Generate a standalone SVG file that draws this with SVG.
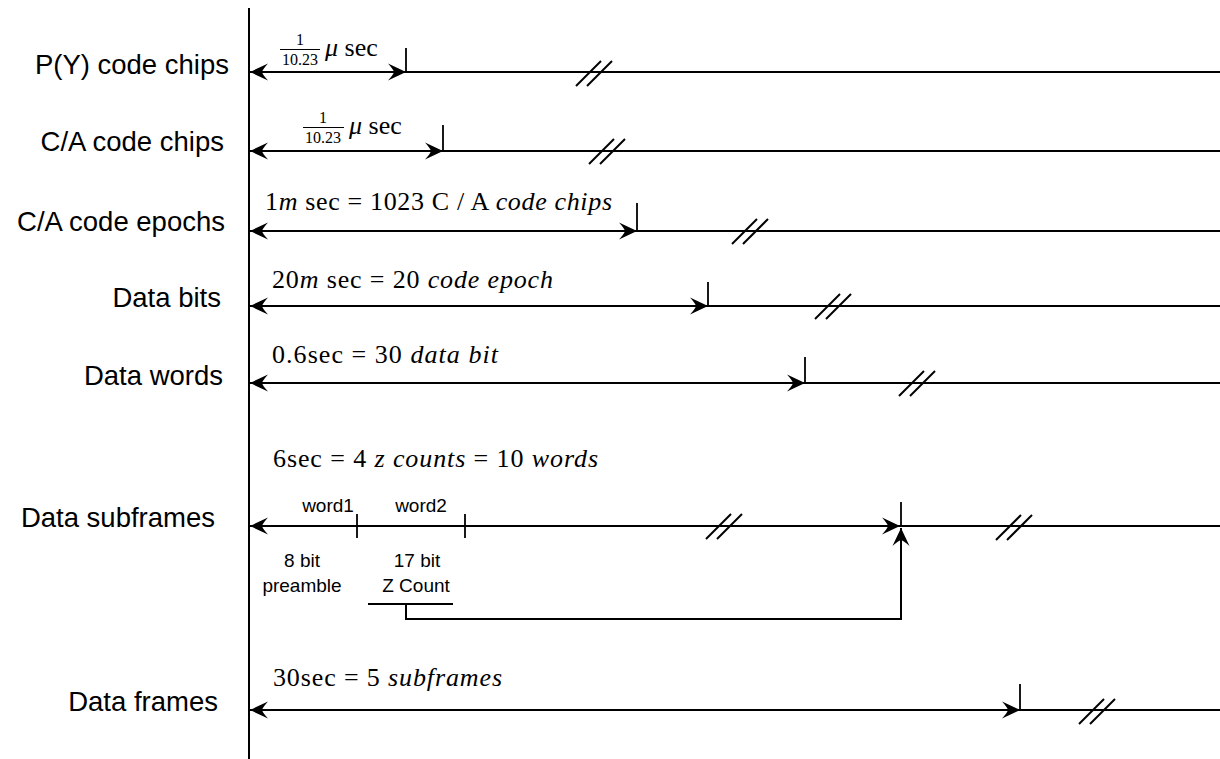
<svg xmlns="http://www.w3.org/2000/svg" xmlns:xlink="http://www.w3.org/1999/xlink" width="1220" height="759" viewBox="0 0 1220 759">
<style>
.ln{stroke:#000;stroke-width:2;fill:none}
.tk{stroke:#000;stroke-width:1.8;fill:none}
.lab{font-family:"Liberation Sans",Arial,sans-serif;font-size:27.5px;fill:#000;text-anchor:end}
.sm{font-family:"Liberation Sans",Arial,sans-serif;font-size:19px;fill:#000;text-anchor:middle}
.eq{font-family:"Liberation Serif","Times New Roman",serif;font-size:26px;fill:#000}
.fr{font-family:"Liberation Serif","Times New Roman",serif;font-size:16px;fill:#000;text-anchor:middle}
.it{font-style:italic}
</style>
<defs>
<marker id="ah" viewBox="-19 -10 20 20" refX="0" refY="0" markerWidth="20" markerHeight="20" markerUnits="userSpaceOnUse" orient="auto-start-reverse">
<path d="M0,0 L-18,-8.5 Q-13,-3 -12,0 Q-13,3 -18,8.5 Z" fill="#000"/>
</marker>
<g id="brk" class="ln"><line x1="-18" y1="13" x2="7" y2="-12"/><line x1="-7" y1="13" x2="18" y2="-12"/></g>
</defs>
<rect width="1220" height="759" fill="#fff"/>

<g id="axis"><line class="ln" x1="249" y1="8" x2="249" y2="759"/></g>

<g id="row-py">
<text class="lab" x="229" y="74">P(Y) code chips</text>
<text class="fr" x="300" y="45" font-size="14">1</text>
<line x1="280" y1="49.5" x2="320" y2="49.5" stroke="#000" stroke-width="1.2"/>
<text class="fr" x="300" y="65">10.23</text>
<text class="eq" x="325" y="56" font-size="27"><tspan class="it">μ</tspan> sec</text>
</g>

<g id="row-ca-chips">
<text class="lab" x="224" y="151">C/A code chips</text>
<text class="fr" x="323" y="123" font-size="14">1</text>
<line x1="303" y1="127.5" x2="344" y2="127.5" stroke="#000" stroke-width="1.2"/>
<text class="fr" x="323" y="143">10.23</text>
<text class="eq" x="349" y="134" font-size="27"><tspan class="it">μ</tspan> sec</text>
</g>

<g id="row-ca-epochs">
<text class="lab" x="225" y="231">C/A code epochs</text>
<text class="eq" x="265" y="210" textLength="347" lengthAdjust="spacing">1<tspan class="it">m</tspan> sec = 1023 C / A <tspan class="it">code chips</tspan></text>
</g>

<g id="row-bits">
<text class="lab" x="221" y="307">Data bits</text>
<text class="eq" x="272" y="288" textLength="281" lengthAdjust="spacing">20<tspan class="it">m</tspan> sec = 20 <tspan class="it">code epoch</tspan></text>
</g>

<g id="row-words">
<text class="lab" x="223" y="385">Data words</text>
<text class="eq" x="272" y="363" textLength="226" lengthAdjust="spacing">0.6sec = 30 <tspan class="it">data bit</tspan></text>
</g>

<g id="row-subframes">
<text class="lab" x="215" y="527">Data subframes</text>
<text class="eq" x="273" y="467" textLength="325" lengthAdjust="spacing">6sec = 4 <tspan class="it">z counts</tspan> = 10 <tspan class="it">words</tspan></text>
<text class="sm" x="328" y="512">word1</text>
<text class="sm" x="421" y="512">word2</text>
<text class="sm" x="302" y="567">8 bit</text>
<text class="sm" x="302" y="592">preamble</text>
<text class="sm" x="417" y="567">17 bit</text>
<text class="sm" x="416" y="592">Z Count</text>
</g>

<g id="row-frames">
<text class="lab" x="218" y="711">Data frames</text>
<text class="eq" x="273" y="686" textLength="229" lengthAdjust="spacing">30sec = 5 <tspan class="it">subframes</tspan></text>
</g>

<g id="connectors">
<line class="ln" x1="250" y1="72" x2="406" y2="72" marker-start="url(#ah)" marker-end="url(#ah)"/>
<line class="ln" x1="406" y1="72" x2="1220" y2="72"/>
<line class="tk" x1="406" y1="48" x2="406" y2="72"/>
<use href="#brk" x="594" y="73"/>

<line class="ln" x1="250" y1="151" x2="443" y2="151" marker-start="url(#ah)" marker-end="url(#ah)"/>
<line class="ln" x1="443" y1="151" x2="1220" y2="151"/>
<line class="tk" x1="443" y1="125" x2="443" y2="151"/>
<use href="#brk" x="607" y="151"/>

<line class="ln" x1="250" y1="231" x2="637" y2="231" marker-start="url(#ah)" marker-end="url(#ah)"/>
<line class="ln" x1="637" y1="231" x2="1220" y2="231"/>
<line class="tk" x1="637" y1="203" x2="637" y2="231"/>
<use href="#brk" x="750" y="231"/>

<line class="ln" x1="250" y1="306" x2="708" y2="306" marker-start="url(#ah)" marker-end="url(#ah)"/>
<line class="ln" x1="708" y1="306" x2="1220" y2="306"/>
<line class="tk" x1="708" y1="282" x2="708" y2="306"/>
<use href="#brk" x="833" y="306"/>

<line class="ln" x1="250" y1="383" x2="805" y2="383" marker-start="url(#ah)" marker-end="url(#ah)"/>
<line class="ln" x1="805" y1="383" x2="1220" y2="383"/>
<line class="tk" x1="805" y1="357" x2="805" y2="383"/>
<use href="#brk" x="917" y="383"/>

<line class="ln" x1="250" y1="526" x2="900" y2="526" marker-start="url(#ah)" marker-end="url(#ah)"/>
<line class="ln" x1="900" y1="526" x2="1220" y2="526"/>
<line class="tk" x1="357" y1="514" x2="357" y2="538"/>
<line class="tk" x1="465" y1="514" x2="465" y2="538"/>
<line class="tk" x1="901" y1="502" x2="901" y2="526"/>
<use href="#brk" x="724" y="526"/>
<use href="#brk" x="1014" y="527"/>
<line class="tk" x1="368" y1="604" x2="453" y2="604"/>
<path class="ln" d="M406,604 V619 H901 V528" marker-end="url(#ah)"/>

<line class="ln" x1="250" y1="710" x2="1020" y2="710" marker-start="url(#ah)" marker-end="url(#ah)"/>
<line class="ln" x1="1020" y1="710" x2="1220" y2="710"/>
<line class="tk" x1="1020" y1="684" x2="1020" y2="710"/>
<use href="#brk" x="1097" y="711"/>
</g>
</svg>
